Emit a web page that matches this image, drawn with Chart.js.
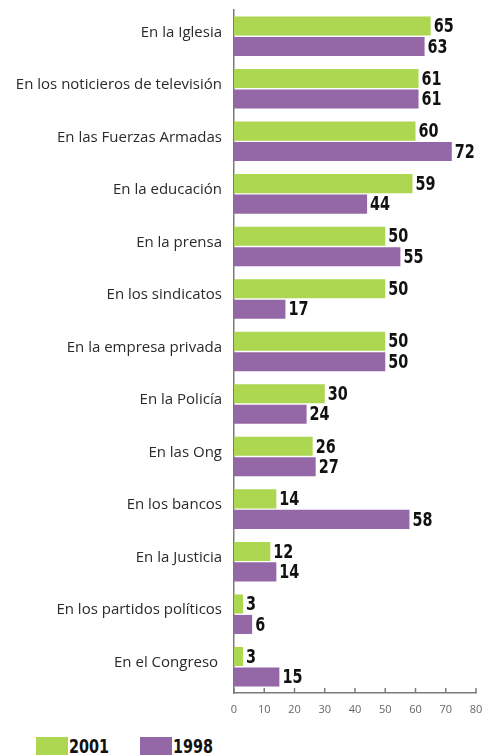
<!DOCTYPE html>
<html>
<head>
<meta charset="utf-8">
<script src="https://cdn.jsdelivr.net/npm/chart.js@4/dist/chart.umd.min.js"></script>
<style>
  body { margin: 0; background: #fff; }
  #wrap { position: relative; width: 486px; height: 725px; }
  .legend { position: absolute; top: 737px; height: 18px; display: flex; align-items: center;
    font-family: "DejaVu Sans", sans-serif; font-weight: bold; font-size: 20px; color: #111; }
  .legend span.box { display: inline-block; width: 32px; height: 18px; margin-right: 1px; }
  .legend span.txt { display: inline-block; transform: scaleX(0.72); transform-origin: left center; }
</style>
</head>
<body>
<div id="wrap"><canvas id="barChart"></canvas></div>
<div class="legend" style="left:36px"><span class="box" style="background:#add651"></span><span class="txt">2001</span></div>
<div class="legend" style="left:140px"><span class="box" style="background:#9468a6"></span><span class="txt">1998</span></div>
<script>
let categories = ["En la Iglesia", "En los noticieros de televisión", "En las Fuerzas Armadas",
    "En la educación", "En la prensa", "En los sindicatos", "En la empresa privada",
    "En la Policía", "En las Ong", "En los bancos", "En la Justicia",
    "En los partidos políticos", "En el Congreso "];
let values2001 = [65, 61, 60, 59, 50, 50, 50, 30, 26, 14, 12, 3, 3];
let values1998 = [63, 61, 72, 44, 55, 17, 50, 24, 27, 58, 14, 6, 15];
let xTicks = [0, 10, 20, 30, 40, 50, 60, 70, 80];

let green = "#add651";
let purple = "#9468a6";
let axisColor = "#7a7a7a";

// numbers at the end of each bar (squeezed to look condensed)
const valueLabels = {
    id: "valueLabels",
    afterDatasetsDraw(chart) {
        const ctx = chart.ctx;
        chart.data.datasets.forEach((ds, i) => {
            chart.getDatasetMeta(i).data.forEach((bar, j) => {
                ctx.save();
                ctx.font = "bold 20px 'DejaVu Sans', sans-serif";
                ctx.fillStyle = "#111";
                ctx.textBaseline = "middle";
                ctx.translate(bar.x + 3, bar.y + 1);
                ctx.scale(0.72, 1);
                ctx.fillText(ds.data[j], 0, 0);
                ctx.restore();
            });
        });
    }
};

// small tick marks pointing up from the x axis
const upTicks = {
    id: "upTicks",
    afterDraw(chart) {
        const ctx = chart.ctx;
        const x = chart.scales.x;
        const bottom = chart.chartArea.bottom;
        ctx.save();
        ctx.strokeStyle = axisColor;
        ctx.lineWidth = 1.5;
        xTicks.forEach(v => {
            const px = x.getPixelForValue(v);
            ctx.beginPath();
            ctx.moveTo(px, bottom);
            ctx.lineTo(px, bottom - 5);
            ctx.stroke();
        });
        ctx.restore();
    }
};

new Chart("barChart", {
    type: "bar",
    data: {
        labels: categories,
        datasets: [
            { label: "2001", data: values2001, backgroundColor: green,
              categoryPercentage: 0.78, barPercentage: 0.93 },
            { label: "1998", data: values1998, backgroundColor: purple,
              categoryPercentage: 0.78, barPercentage: 0.93 }
        ]
    },
    options: {
        indexAxis: "y",
        responsive: true,
        maintainAspectRatio: false,
        animation: false,
        layout: { padding: { top: 10, right: 10, left: 0, bottom: 0 } },
        plugins: {
            legend: { display: false },
            tooltip: { enabled: false }
        },
        scales: {
            x: {
                min: 0,
                max: 80,
                afterBuildTicks: axis => { axis.ticks = xTicks.map(v => ({ value: v })); },
                afterFit: axis => {
                    axis.height = 32;
                    axis.paddingLeft = 0;
                    axis.paddingRight = 0;
                },
                grid: { display: false, drawTicks: false },
                border: { color: axisColor, width: 1.5 },
                ticks: { color: "#666", padding: 10,
                    font: { family: "'Open Sans', sans-serif", size: 11 } }
            },
            y: {
                afterFit: axis => {
                    axis.width = 234;
                    axis.paddingTop = 0;
                    axis.paddingBottom = 0;
                },
                grid: { display: false, drawTicks: false },
                border: { color: axisColor, width: 1.5 },
                ticks: { color: "#2a2a2a", padding: 12, labelOffset: -4,
                    font: { family: "'Open Sans', sans-serif", size: 15 } }
            }
        }
    },
    plugins: [valueLabels, upTicks]
});
</script>
</body>
</html>
